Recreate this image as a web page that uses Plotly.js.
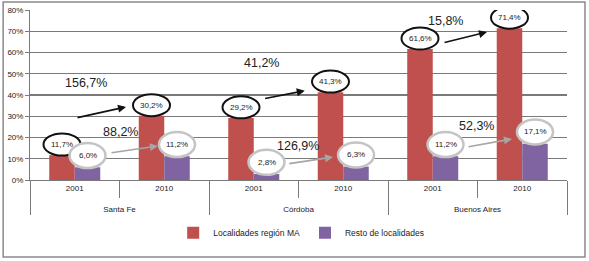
<!DOCTYPE html>
<html>
<head>
<meta charset="utf-8">
<script src="https://cdn.plot.ly/plotly-3.0.1.min.js"></script>
<style>html,body{margin:0;padding:0;background:#fff;}#chart{width:589px;height:261px;}</style>
</head>
<body>
<div id="chart"></div>
<script>
// ---- data ----
var provinces = ['Santa Fe', 'Santa Fe', 'Córdoba', 'Córdoba', 'Buenos Aires', 'Buenos Aires'];
var years = ['2001', '2010', '2001', '2010', '2001', '2010'];
var localidadesMA = [11.7, 30.2, 29.2, 41.3, 61.6, 71.4];
var restoLocalidades = [6.0, 11.2, 2.8, 6.3, 11.2, 17.1];
var growthMA = ['156,7%', '41,2%', '15,8%'];
var growthResto = ['88,2%', '126,9%', '52,3%'];
var seriesNames = ['Localidades región MA', 'Resto de localidades'];
var yTickVals = [0, 10, 20, 30, 40, 50, 60, 70, 80];

// ---- styling / annotation layout (category-index, percent) ----
var FONT = '"Liberation Sans Narrow", "Arial Narrow", "Liberation Sans", Arial, sans-serif';
var RED = '#C0504D', PURPLE = '#8064A2';
var OFF = 0.1425;
var growthMAPos = [[0.13, 45.6], [0.09, 55.1], [0.14, 74.8]];
var growthRestoPos = [[0.51, 22.6], [0.49, 16.0], [0.49, 25.4]];
var arrowMA = [[0.014, 29.2, 0.573, 34.4], [0.11, 38.2, 0.57, 42.0], [0.115, 64.5, 0.606, 69.6]];
var arrowResto = [[0.394, 12.7, 0.93, 16.0], [0.38, 7.6, 0.886, 10.8], [0.383, 15.5, 0.885, 19.3]];

function fmt(v) { return v.toFixed(1).replace('.', ',') + '%'; }
// a leading line break pushes the province row down, as in the reference
var provinceLabels = provinces.map(function (p) { return '<br>' + p; });

var traces = [
  { type: 'bar', name: seriesNames[0], x: [provinceLabels, years], y: localidadesMA,
    marker: { color: RED }, hoverinfo: 'skip' },
  { type: 'bar', name: seriesNames[1], x: [provinceLabels, years], y: restoLocalidades,
    marker: { color: PURPLE }, hoverinfo: 'skip' },
  { type: 'scatter', x: [0], y: [0], xaxis: 'x2', yaxis: 'y', mode: 'markers',
    marker: { opacity: 0 }, showlegend: false, hoverinfo: 'skip' }
];

var shapes = [];
var annotations = [];

localidadesMA.forEach(function (v, i) {
  shapes.push({ type: 'circle', xref: 'x2', yref: 'y', xsizemode: 'pixel', ysizemode: 'pixel',
    xanchor: i - OFF, yanchor: v + 5, x0: -18.5, x1: 18.5, y0: -11, y1: 11,
    fillcolor: '#fff', line: { color: '#111', width: 2 }, layer: 'above' });
  annotations.push({ xref: 'x2', yref: 'y', x: i - OFF, y: v + 5, text: fmt(v), showarrow: false,
    font: { family: FONT, size: 8, color: '#222' } });
});
restoLocalidades.forEach(function (v, i) {
  shapes.push({ type: 'circle', xref: 'x2', yref: 'y', xsizemode: 'pixel', ysizemode: 'pixel',
    xanchor: i + OFF, yanchor: v + 5.5, x0: -18, x1: 18, y0: -12.5, y1: 12.5,
    fillcolor: '#fff', line: { color: '#c4c4c4', width: 2.5 }, layer: 'above' });
  annotations.push({ xref: 'x2', yref: 'y', x: i + OFF, y: v + 5.5, text: fmt(v), showarrow: false,
    font: { family: FONT, size: 8, color: '#222' } });
});

for (var k = 0; k < 3; k++) {
  var base = 2 * k;
  annotations.push({ xref: 'x2', yref: 'y', x: base + growthMAPos[k][0], y: growthMAPos[k][1],
    text: growthMA[k], showarrow: false, font: { family: FONT, size: 12.5, color: '#222' } });
  annotations.push({ xref: 'x2', yref: 'y', x: base + growthRestoPos[k][0], y: growthRestoPos[k][1],
    text: growthResto[k], showarrow: false, font: { family: FONT, size: 12.5, color: '#222' } });
  var a = arrowMA[k];
  annotations.push({ xref: 'x2', yref: 'y', axref: 'x2', ayref: 'y', x: base + a[2], y: a[3],
    ax: base + a[0], ay: a[1], text: '', showarrow: true, arrowhead: 2, arrowsize: 1,
    arrowwidth: 1.6, arrowcolor: '#111', standoff: 0, startstandoff: 0 });
  var b = arrowResto[k];
  annotations.push({ xref: 'x2', yref: 'y', axref: 'x2', ayref: 'y', x: base + b[2], y: b[3],
    ax: base + b[0], ay: b[1], text: '', showarrow: true, arrowhead: 2, arrowsize: 1,
    arrowwidth: 1.6, arrowcolor: '#a6a6a6', standoff: 0, startstandoff: 0 });
}

// outer frame
shapes.push({ type: 'rect', xref: 'paper', yref: 'paper', x0: -0.05, x1: 1.0335, y0: -0.453, y1: 1.047,
  line: { color: '#8a8a8a', width: 1.5 }, fillcolor: 'rgba(0,0,0,0)', layer: 'below' });

var layout = {
  width: 589, height: 261,
  margin: { l: 30, r: 22, t: 10, b: 81 },
  paper_bgcolor: '#fff', plot_bgcolor: '#fff',
  font: { family: FONT, size: 8, color: '#222' },
  barmode: 'group', bargap: 0.43, bargroupgap: 0,
  xaxis: {
    type: 'multicategory', showgrid: false, showline: true, linecolor: '#7a7a7a', linewidth: 1,
    ticks: 'outside', tickson: 'boundaries', ticklen: 17, tickcolor: '#7a7a7a', tickwidth: 1,
    showdividers: true, dividercolor: '#7a7a7a', dividerwidth: 1,
    tickfont: { family: FONT, size: 8, color: '#222' }, range: [-0.5, 5.5], fixedrange: true
  },
  xaxis2: { overlaying: 'x', anchor: 'y', range: [-0.5, 5.5], visible: false, fixedrange: true },
  yaxis: {
    range: [0, 80], tickvals: yTickVals, ticktext: yTickVals.map(function (t) { return t + '%'; }),
    showgrid: true, gridcolor: '#7a7a7a', gridwidth: 1.2, zeroline: false,
    showline: true, linecolor: '#7a7a7a', linewidth: 1, ticks: 'outside', ticklen: 4,
    tickcolor: '#7a7a7a', tickfont: { family: FONT, size: 8, color: '#222' }, fixedrange: true
  },
  legend: { orientation: 'h', x: 0.505, xanchor: 'center', y: -0.31, yanchor: 'middle',
    font: { family: FONT, size: 8.5, color: '#222' }, itemwidth: 30, traceorder: 'normal' },
  shapes: shapes,
  annotations: annotations,
  showlegend: true
};

Plotly.newPlot('chart', traces, layout, { displayModeBar: false, staticPlot: true });
</script>
</body>
</html>
